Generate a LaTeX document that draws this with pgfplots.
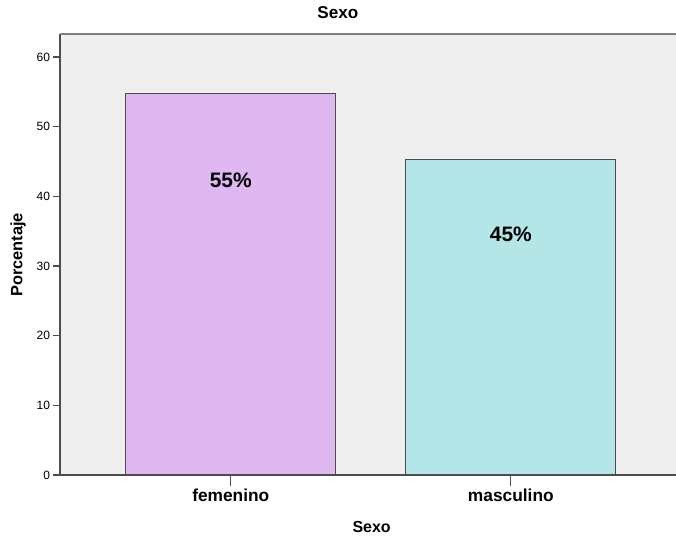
\documentclass[border=0pt]{standalone}
\usepackage{pgfplots}
\pgfplotsset{compat=1.18}
\usepackage{fontspec}
\setmainfont{Liberation Sans}

\definecolor{plotbg}{HTML}{EFEFEF}
\definecolor{femfill}{HTML}{DFB8F2}
\definecolor{mascfill}{HTML}{B4E6E8}
\definecolor{edgegray}{HTML}{4D4D4D}
\definecolor{framegray}{HTML}{808080}

\pgfplotstableread{
x pct
0 54.7
}\femtable
\pgfplotstableread{
x pct
1 45.3
}\masctable

\begin{document}
\begin{tikzpicture}
\useasboundingbox (0,0) rectangle (507pt,402pt);
% the plot area runs on past the right edge of the page
\begin{axis}[
  at={(45pt,45.75pt)}, anchor=south west,
  scale only axis,
  width=470pt, height=330.75pt,
  xmin=-0.61, xmax=1.628,
  ymin=0, ymax=63.3,
  axis x line*=bottom, axis y line*=left,
  axis line style={edgegray, line width=0.8pt, -},
  axis background/.style={fill=plotbg},
  xtick={0,1}, xticklabels={femenino,masculino},
  ytick={0,10,20,30,40,50,60},
  tick align=outside,
  major tick length=5pt,
  tick style={edgegray, line width=0.8pt},
  x tick style={/pgfplots/major tick length=8pt},
  xticklabel style={font=\fontsize{13}{15}\selectfont\bfseries, yshift=-2pt},
  yticklabel style={font=\fontsize{9}{10}\selectfont, xshift=1pt},
  /pgf/number format/assume math mode=true,
  title={Sexo},
  title style={font=\fontsize{12.8}{15}\selectfont\bfseries,
    at={(axis description cs:0.4434,1.0295)}, anchor=center},
  xlabel={Sexo},
  xlabel style={font=\fontsize{12}{14}\selectfont\bfseries,
    at={(axis description cs:0.4973,-0.118)}, anchor=center},
  ylabel={Porcentaje},
  ylabel style={font=\fontsize{12.3}{14}\selectfont\bfseries,
    at={(axis description cs:-0.0669,0.499)}, anchor=center, rotate=0},
  ybar, bar width=0.75, bar shift=0pt,
  clip=false,
]
\addplot[fill=femfill, draw=edgegray, line width=0.8pt] table[x=x, y=pct] {\femtable};
\addplot[fill=mascfill, draw=edgegray, line width=0.8pt] table[x=x, y=pct] {\masctable};
\draw[framegray, line width=0.8pt] (rel axis cs:0,1) -- (rel axis cs:1,1);
\node[font=\fontsize{15.7}{18}\selectfont\bfseries] at (axis cs:0,42.3) {55\%};
\node[font=\fontsize{15.7}{18}\selectfont\bfseries] at (axis cs:1,34.5) {45\%};
\end{axis}
\end{tikzpicture}
\end{document}
